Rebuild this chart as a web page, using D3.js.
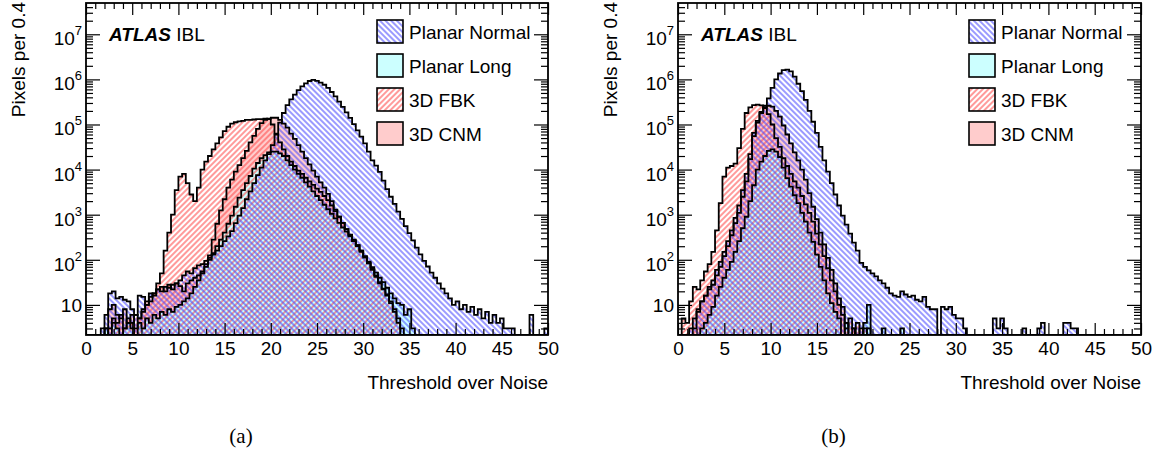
<!DOCTYPE html>
<html><head><meta charset="utf-8">
<script src="https://cdn.jsdelivr.net/npm/d3@7"></script>
<style>
body{margin:0;background:#fff}
svg{display:block}
text{font-family:"Liberation Sans",Arial,sans-serif;fill:#000}
</style>
</head><body>
<svg id="c" width="1163" height="453"></svg>
<script>
// ---------------- data ----------------
const binWidth = 0.4;
const xMin = 0, xMax = 50;
const xMajorTicks = [0,5,10,15,20,25,30,35,40,45,50];
const yMajorTicks = [10,1e2,1e3,1e4,1e5,1e6,1e7];
const seriesNames = ["Planar Normal","Planar Long","3D FBK","3D CNM"];
const panelLabels = ["(a)","(b)"];
const xTitle = "Threshold over Noise";
const yTitle = "Pixels per 0.4";

// counts per 0.4-wide bin, starting at bin 0 (0.0-0.4); missing trailing bins are empty
const planarNormalA = [0,0,0,0,3,6,18,20,14,15,13,12,8,6,16,15,10,18,16,22,20,25,24,28,30,35,45,55,50,65,75,80,95,110,130,160,200,260,330,430,650,950,1400,2200,3300,5000,7500,11000,16000,22000,35000,60000,110000,180000,270000,360000,460000,580000,700000,820000,920000,980000,930000,850000,760000,650000,525000,420000,320000,245000,185000,140000,102000,74000,54000,38000,25000,16000,12300,8900,5700,3700,2500,1740,1170,810,560,390,270,186,132,95,71,52,40,30,23,18,14,10,12,8,10,7,9,6,8,5,7,4,6,4,5,3,3,3,0,0,0,0,6,0,0,0,3];
const planarLongA = [0,0,0,0,0,3,0,4,3,0,3,4,3,0,4,3,5,4,6,5,7,6,8,7,9,10,12,14,18,25,35,50,70,100,140,200,280,400,630,950,1500,2400,3500,5000,7200,10500,14000,18000,21000,24000,25000,25000,23000,20000,16000,12500,10000,8000,6600,5200,4200,3300,2600,2100,1660,1320,1050,830,660,520,420,330,260,210,160,120,91,69,52,40,32,24,18,14,11,10,6,8,3];
const fbkA = [0,0,0,0,0,0,3,5,4,6,3,5,4,6,5,8,10,12,18,30,50,160,400,1000,3500,7000,8000,5000,2800,2000,4000,10000,15000,20000,28000,38000,52000,71000,89000,105000,112000,117000,120000,126000,126000,129000,132000,132000,135000,132000,100000,63000,40000,28000,20000,15000,12000,9500,8000,6600,5500,4600,3800,3200,2600,2100,1600,1200,900,660,480,350,260,200,150,112,83,60,42,30,22,16,11,7,4];
const cnmA = [0,0,0,0,0,3,8,10,6,5,8,4,6,3,5,7,12,15,18,22,25,20,28,22,30,26,20,30,35,40,45,55,80,125,280,630,1250,2200,4000,6000,9000,12500,18000,26000,40000,56000,80000,107000,126000,135000,141000,141000,126000,105000,85000,63000,48000,35000,25000,18000,13000,9500,7000,5200,4000,2900,2000,1300,900,660,480,360,280,210,160,117,85,63,45,32,23,17,12,8,5,3];

const planarNormalB = [0,0,0,3,5,7,12,16,25,35,60,90,150,260,450,850,1600,3500,8000,22000,65000,120000,190000,260000,380000,650000,1000000,1350000,1600000,1650000,1500000,1150000,800000,550000,350000,200000,115000,65000,32000,16000,9000,5000,2800,1600,950,600,380,240,160,85,70,58,50,43,35,30,24,18,16,15,20,17,15,16,13,12,15,9,8,8,0,9,8,9,6,5,5,3,0,0,0,0,0,0,0,5,3,5,3,0,0,0,0,3,0,0,0,3,4,0,0,0,0,0,4,4,3,3];
const planarLongB = [0,0,0,0,0,0,3,4,6,9,16,25,40,60,90,150,260,500,900,2000,4500,10000,15000,20000,26000,28000,25000,19000,11000,6500,4200,2700,1800,1100,700,400,250,130,70,35,18,11,7,5,0,4,0,0,0,0,4,10,0,0,0,3,0,0,0,0,3];
const fbkB = [0,5,4,12,25,22,35,55,80,150,450,1800,7000,11000,12000,13500,30000,80000,180000,240000,270000,275000,265000,230000,170000,100000,50000,32000,18000,12000,8000,5500,4000,2600,1700,1100,700,380,220,120,65,35,20,10,6,3,5,3,4,0,3];
const cnmB = [0,0,0,0,3,8,12,16,22,28,45,70,120,200,350,650,1100,2500,5500,17000,55000,110000,180000,240000,260000,250000,200000,150000,95000,60000,38000,24000,16000,10000,6000,3000,1500,800,400,220,110,60,30,14,9,4,0,3,0,3,0,3];

// ---------------- layout ----------------
const plotTop = 3, plotBottom = 335;
const panelX = [[86,548],[678,1141]];
const panelData = [
  {pn:planarNormalA, pl:planarLongA, fbk:fbkA, cnm:cnmA},
  {pn:planarNormalB, pl:planarLongB, fbk:fbkB, cnm:cnmB}
];
const nBins = Math.round((xMax - xMin) / binWidth);

const svg = d3.select("#c");
const defs = svg.append("defs");
function hatch(id, color, angle){
  const p = defs.append("pattern").attr("id", id)
    .attr("patternUnits","userSpaceOnUse").attr("width",4).attr("height",4)
    .attr("patternTransform",`rotate(${angle})`);
  p.append("line").attr("x1",2).attr("y1",-1).attr("x2",2).attr("y2",5)
    .attr("stroke",color).attr("stroke-width",1.1);
}
hatch("hPN","#4646ff",-45);
hatch("hFBK","#ff4646",45);

const styles = {
  pn:  {fill:"url(#hPN)"},
  pl:  {fill:"#ccffff"},
  fbk: {fill:"url(#hFBK)"},
  cnm: {fill:"#ffcccc"}
};
const drawOrder = ["cnm","pl","fbk","pn"];
const legendKeys = ["pn","pl","fbk","cnm"];

const y = d3.scaleLog().domain([2.15, 4.94e7]).range([plotBottom, plotTop]).clamp(true);

function histPath(vals, x){
  const yb = y.range()[0];
  let d = `M${x(xMin)},${yb}`;
  for(let k=0;k<nBins;k++){
    const v = k < vals.length ? vals[k] : 0;
    const yy = v > 0 ? y(v) : yb;
    d += `L${x(xMin+k*binWidth)},${yy}L${x(xMin+(k+1)*binWidth)},${yy}`;
  }
  d += `L${x(xMax)},${yb}Z`;
  return d;
}

const yMinor = [];
for(let e=0;e<8;e++) for(let m=2;m<=9;m++){ const v=m*Math.pow(10,e); if(v>=y.domain()[0] && v<=y.domain()[1]) yMinor.push(v); }
const xMinor = d3.range(xMin, xMax+1, 1).filter(v => v % 5 !== 0);

panelX.forEach(([x0,x1], pi) => {
  const x = d3.scaleLinear().domain([xMin,xMax]).range([x0,x1]);
  const g = svg.append("g");
  const clipId = "clip"+pi;
  defs.append("clipPath").attr("id",clipId).append("rect")
    .attr("x",x0).attr("y",plotTop).attr("width",x1-x0).attr("height",plotBottom-plotTop);
  const hg = g.append("g").attr("clip-path",`url(#${clipId})`);
  const data = panelData[pi];
  drawOrder.forEach(key => {
    hg.append("path").attr("d", histPath(data[key], x)).attr("fill", styles[key].fill).attr("stroke","none");
  });
  drawOrder.forEach(key => {
    hg.append("path").attr("d", histPath(data[key], x)).attr("fill","none")
      .attr("stroke","#000").attr("stroke-width",1.8).attr("stroke-linejoin","miter");
  });

  // axes
  const fmtNone = () => "";
  const ax = [];
  ax.push(g.append("g").attr("transform",`translate(0,${plotBottom})`)
    .call(d3.axisBottom(x).tickValues(xMajorTicks).tickSizeInner(-12).tickSizeOuter(0).tickPadding(7).tickFormat(d=>d)));
  ax.push(g.append("g").attr("transform",`translate(0,${plotBottom})`)
    .call(d3.axisBottom(x).tickValues(xMinor).tickSizeInner(-6).tickSizeOuter(0).tickFormat(fmtNone)));
  ax.push(g.append("g").attr("transform",`translate(0,${plotTop})`)
    .call(d3.axisTop(x).tickValues(xMajorTicks).tickSizeInner(-12).tickSizeOuter(0).tickFormat(fmtNone)));
  ax.push(g.append("g").attr("transform",`translate(0,${plotTop})`)
    .call(d3.axisTop(x).tickValues(xMinor).tickSizeInner(-6).tickSizeOuter(0).tickFormat(fmtNone)));
  ax.push(g.append("g").attr("transform",`translate(${x0},0)`)
    .call(d3.axisLeft(y).tickValues(yMajorTicks).tickSizeInner(-14).tickSizeOuter(0).tickFormat(fmtNone)));
  ax.push(g.append("g").attr("transform",`translate(${x0},0)`)
    .call(d3.axisLeft(y).tickValues(yMinor).tickSizeInner(-7).tickSizeOuter(0).tickFormat(fmtNone)));
  ax.push(g.append("g").attr("transform",`translate(${x1},0)`)
    .call(d3.axisRight(y).tickValues(yMajorTicks).tickSizeInner(-14).tickSizeOuter(0).tickFormat(fmtNone)));
  ax.push(g.append("g").attr("transform",`translate(${x1},0)`)
    .call(d3.axisRight(y).tickValues(yMinor).tickSizeInner(-7).tickSizeOuter(0).tickFormat(fmtNone)));
  ax.forEach(a => {
    a.select(".domain").remove();
    a.selectAll("line").attr("stroke","#000").attr("stroke-width",1.2);
    a.selectAll("text").attr("font-size",19).attr("font-family","Liberation Sans, Arial, sans-serif").attr("fill","#000");
  });

  // y labels with superscript
  yMajorTicks.forEach(v => {
    const e = Math.round(Math.log10(v));
    const ty = y(v);
    if(e === 1){
      g.append("text").attr("x",x0-4).attr("y",ty+7).attr("text-anchor","end").attr("font-size",19).text("10");
    } else {
      const t = g.append("text").attr("x",x0-4).attr("y",ty+11).attr("text-anchor","end").attr("font-size",19);
      t.append("tspan").text("10");
      t.append("tspan").attr("dy",-10).attr("font-size",13).text(String(e));
    }
  });

  // frame
  g.append("rect").attr("x",x0).attr("y",plotTop).attr("width",x1-x0).attr("height",plotBottom-plotTop)
    .attr("fill","none").attr("stroke","#000").attr("stroke-width",1.8);

  // titles
  g.append("text").attr("x",x1).attr("y",389).attr("text-anchor","end").attr("font-size",19).text(xTitle);
  g.append("text").attr("transform",`translate(${x0-61},2) rotate(-90)`).attr("text-anchor","end")
    .attr("font-size",19).text(yTitle);
  g.append("text").attr("x",(x0+x1)/2-76).attr("y",443).attr("text-anchor","middle")
    .attr("font-size",21).style("font-family","'Liberation Serif','Times New Roman',serif").text(panelLabels[pi]);

  // ATLAS label
  const at = g.append("text").attr("x",x0+23).attr("y",41).attr("font-size",19);
  at.append("tspan").attr("font-weight","bold").attr("font-style","italic").text("ATLAS");
  at.append("tspan").text(" IBL");

  // legend
  legendKeys.forEach((key,i) => {
    const ry = 20 + i*34;
    g.append("rect").attr("x",x0+291).attr("y",ry).attr("width",26).attr("height",23).attr("fill","#fff");
    g.append("rect").attr("x",x0+291).attr("y",ry).attr("width",26).attr("height",23)
      .attr("fill",styles[key].fill).attr("stroke","#000").attr("stroke-width",1.6);
    g.append("text").attr("x",x0+323).attr("y",ry+19).attr("font-size",19).text(seriesNames[i]);
  });
});
</script>
</body></html>
